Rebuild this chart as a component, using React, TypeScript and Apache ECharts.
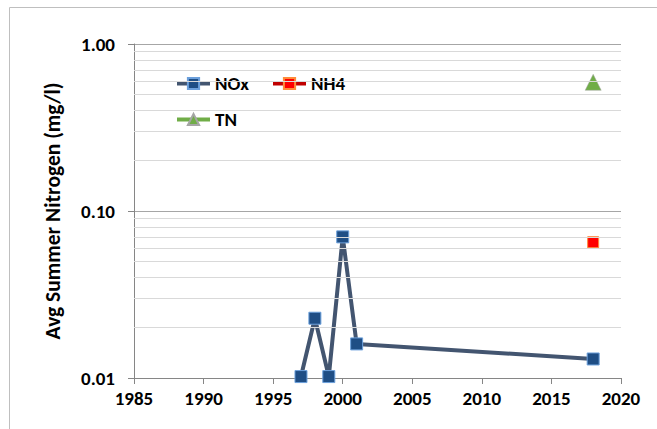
import React, { useEffect, useRef } from "react";
import * as echarts from "echarts";

const years: number[] = [1997, 1998, 1999, 2000, 2001, 2018];
const noxValues: number[] = [0.0102, 0.0228, 0.0102, 0.07, 0.016, 0.013];
const nh4Years: number[] = [2018];
const nh4Values: number[] = [0.065];
const tnYears: number[] = [2018];
const tnValues: number[] = [0.59];
const minorGridValues: number[] = [
  0.02, 0.03, 0.04, 0.05, 0.06, 0.07, 0.08, 0.09,
  0.2, 0.3, 0.4, 0.5, 0.6, 0.7, 0.8, 0.9,
];

const FONT = "Carlito, Calibri, 'Liberation Sans', Arial, sans-serif";

export default function App() {
  const ref = useRef<HTMLDivElement>(null);
  useEffect(() => {
    if (!ref.current) return;
    const chart = echarts.init(ref.current, null, { renderer: "svg" });
    const zip = (xs: number[], ys: number[]) => xs.map((x, i) => [x, ys[i]]);
    const legendText = { fontFamily: FONT, fontWeight: "bold", fontSize: 19, color: "#000" };
    const legendCommon = {
      itemWidth: 33, itemHeight: 14, padding: 0, itemGap: 4,
      textStyle: legendText, lineStyle: { width: 4 },
    };
    chart.setOption({
      animation: false,
      backgroundColor: "#fff",
      graphic: [
        {
          type: "rect",
          shape: { x: 9.5, y: 7.5, width: 800, height: 600 },
          style: { fill: "none", stroke: "#BFBFBF", lineWidth: 1 },
          silent: true,
          z: -10,
        },
      ],
      grid: { left: 134, right: 36, top: 44, bottom: 51 },
      legend: [
        { ...legendCommon, data: ["NOx"], left: 175, top: 74 },
        { ...legendCommon, data: ["NH4"], left: 271, top: 74 },
        { ...legendCommon, data: ["TN"], left: 175, top: 110 },
      ],
      xAxis: {
        type: "value",
        min: 1985,
        max: 2020,
        interval: 5,
        axisLine: { show: true, lineStyle: { color: "#868686", width: 1 } },
        axisTick: { show: true, length: 6, inside: false, lineStyle: { color: "#868686" } },
        axisLabel: {
          fontFamily: FONT, fontWeight: "bold", fontSize: 19, color: "#000", margin: 11,
          formatter: (v: number) => String(v),
        },
        splitLine: { show: false },
      },
      yAxis: {
        type: "log",
        logBase: 10,
        min: 0.01,
        max: 1,
        name: "Avg Summer Nitrogen (mg/l)",
        nameLocation: "middle",
        nameGap: 70,
        nameTextStyle: { fontFamily: FONT, fontWeight: "bold", fontSize: 21.5, color: "#000" },
        axisLine: { show: true, lineStyle: { color: "#868686", width: 1 } },
        axisTick: { show: true, length: 6, inside: false, lineStyle: { color: "#868686" } },
        axisLabel: {
          fontFamily: FONT, fontWeight: "bold", fontSize: 19, color: "#000", margin: 19,
          formatter: (v: number) => v.toFixed(2),
        },
        splitLine: { show: true, lineStyle: { color: "#A6A6A6", width: 1 } },
      },
      series: [
        {
          name: "grid-minor",
          type: "line",
          data: [],
          silent: true,
          z: 1,
          markLine: {
            silent: true,
            symbol: "none",
            label: { show: false },
            lineStyle: { color: "#D9D9D9", width: 1, type: "solid" },
            data: minorGridValues.map((v) => ({ yAxis: v })),
          },
        },
        {
          name: "NOx",
          type: "line",
          data: zip(years, noxValues),
          symbol: "rect",
          symbolSize: 12,
          z: 3,
          lineStyle: { color: "#435570", width: 4 },
          itemStyle: { color: "#1F4E85", borderColor: "#6CA0DC", borderWidth: 1 },
        },
        {
          name: "NH4",
          type: "line",
          data: zip(nh4Years, nh4Values),
          symbol: "rect",
          symbolSize: 11,
          z: 3,
          lineStyle: { color: "#C00000", width: 3 },
          itemStyle: { color: "#FF0000", borderColor: "#FF8C3A", borderWidth: 1 },
        },
        {
          name: "TN",
          type: "line",
          data: zip(tnYears, tnValues),
          symbol: "triangle",
          symbolSize: 16,
          z: 3,
          lineStyle: { color: "#70AD47", width: 3 },
          itemStyle: { color: "#70AD47", borderColor: "#A5A5A5", borderWidth: 0.5 },
        },
      ],
    });
    return () => chart.dispose();
  }, []);
  return (
    <div
      ref={ref}
      style={{ position: "fixed", left: 0, top: 0, width: 657, height: 429 }}
    />
  );
}
